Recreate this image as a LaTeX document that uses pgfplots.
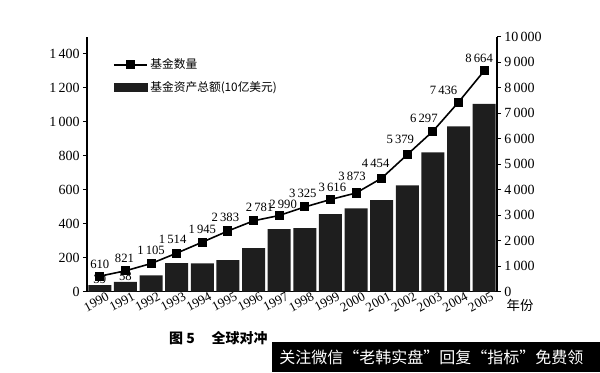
\documentclass[border=0pt]{standalone}
\usepackage{pgfplots}
\pgfplotsset{compat=1.18}
\usepackage{pgfplotstable}
\usepackage{fontspec}
\setmainfont{Liberation Serif}
\newfontfamily\cjk{Noto Sans CJK SC}
\definecolor{barfill}{HTML}{1E1E1E}

\pgfplotsset{
  mylineleg/.style={legend image code/.code={\draw[mark repeat=2,mark phase=2,##1] plot coordinates {(0pt,0pt) (12.4pt,0pt) (24.75pt,0pt)};}},
  mybarleg/.style={legend image code/.code={\fill[barfill] (0pt,-3pt) rectangle (24.75pt,3pt);}},
}

\pgfplotstableread{
x assets
0 38.9
1 58.4
2 95.7
3 167.8
4 167.4
5 185.8
6 256.7
7 367.6
8 374.8
9 456.4
10 490.6
11 539.1
12 625.6
13 820.0
14 972.6
15 1105.4
}\assets

\pgfplotstableread{
x funds dx dy
0 610 0 9
1 821 -0.75 9
2 1105 0 9.75
3 1514 -3 10.5
4 1945 0 9.75
5 2383 -1.9 10.2
6 2781 4.5 9.75
7 2990 3 8.25
8 3325 -1.5 10.5
9 3616 1.5 9.2
10 3873 -3 12.5
11 4454 -4.5 11.25
12 5379 -5.25 11.25
13 6297 -6.75 9.75
14 7436 -11.25 9
15 8664 -3.75 9
}\funds

\begin{document}
\begin{tikzpicture}
\pgfplotsset{
  common/.style={
    scale only axis, width=307.5pt, height=191.25pt,
    xmin=-0.5, xmax=15.5, ymin=0,
    tick align=outside, major tick length=3pt,
    axis line style={line width=0.8pt, black},
    tick style={line width=0.6pt, black},
    /pgf/number format/.cd, 1000 sep={\,}, assume math mode=true,
  },
}
\begin{axis}[common,
  ymax=1500,
  axis x line*=bottom, axis y line*=left,
  ytick={0,200,...,1400},
  xtick={0,...,15},
  xticklabels={1990,1991,1992,1993,1994,1995,1996,1997,1998,1999,2000,2001,2002,2003,2004,2005},
  x tick style={draw=none},
  x tick label style={rotate=28, anchor=north east, xshift=6pt, yshift=1pt, inner sep=0.5pt, font=\fontsize{9.8}{9.8}\selectfont},
  y tick label style={font=\fontsize{10.5}{10.5}\selectfont, xshift=1pt},
  scaled y ticks=false,
]
\addplot[ybar, bar width=0.9, fill=barfill, draw=none] table[x=x, y=assets] \assets;
\addplot[draw=none, mark=none, point meta=explicit symbolic,
  nodes near coords, every node near coord/.append style={anchor=south, font=\fontsize{9.5}{9.5}\selectfont, inner sep=1pt}]
  coordinates {(0,38.9)[39] (1,58.4)[58]};
\end{axis}
\begin{axis}[common,
  ymax=10000,
  axis x line=none, axis y line*=right,
  ytick={0,1000,...,10000},
  scaled y ticks=false,
  y tick label style={font=\fontsize{10.5}{10.5}\selectfont, xshift=-1pt},
  legend style={at={(0.063,0.925)}, anchor=north west, draw=none, fill=none,
    inner sep=0pt, row sep=4pt, font=\cjk\fontsize{8.8}{9}\selectfont,
    nodes={inner sep=2pt}},
  legend cell align=left,
]
\addplot[black, line width=1.2pt, mark=square*, mark size=2.8pt, mylineleg] table[x=x, y=funds] \funds;
\addlegendentry{基金数量}
\addlegendimage{mybarleg}
\addlegendentry{基金资产总额(10亿美元)}
\addplot[forget plot, draw=none, mark=none,
  visualization depends on={\thisrow{dx} \as \dx},
  visualization depends on={\thisrow{dy} \as \dy},
  point meta=explicit symbolic,
  nodes near coords={\pgfmathprintnumber[assume math mode=true, 1000 sep={\,}, fixed, precision=0]{\pgfplotspointmeta}},
  every node near coord/.append style={anchor=center, xshift=\dx, yshift=\dy, font=\fontsize{9.5}{9.5}\selectfont, black},
] table[x=x, y=funds, meta=funds] \funds;
\end{axis}
\node[font=\cjk\fontsize{10}{10}\selectfont] at (324.75pt,-10pt) {年份};
\node[font=\cjk\bfseries\fontsize{10.5}{10.5}\selectfont, anchor=west] at (58pt,-34.7pt) {图 5};
\node[font=\cjk\bfseries\fontsize{10.5}{10.5}\selectfont, anchor=west] at (90pt,-34.7pt) {全球对冲};
\fill[black] (138.75pt,-37.4pt) rectangle (384.75pt,-60.2pt);
\node[font=\cjk\fontsize{12}{12}\selectfont, white, anchor=west, inner sep=0pt] at (144pt,-49.5pt) {关注微信“老韩实盘”回复“指标”免费领};
\pgfresetboundingbox
\useasboundingbox (-65.25pt,-60.2pt) rectangle (384.75pt,218.8pt);
\end{tikzpicture}
\end{document}
